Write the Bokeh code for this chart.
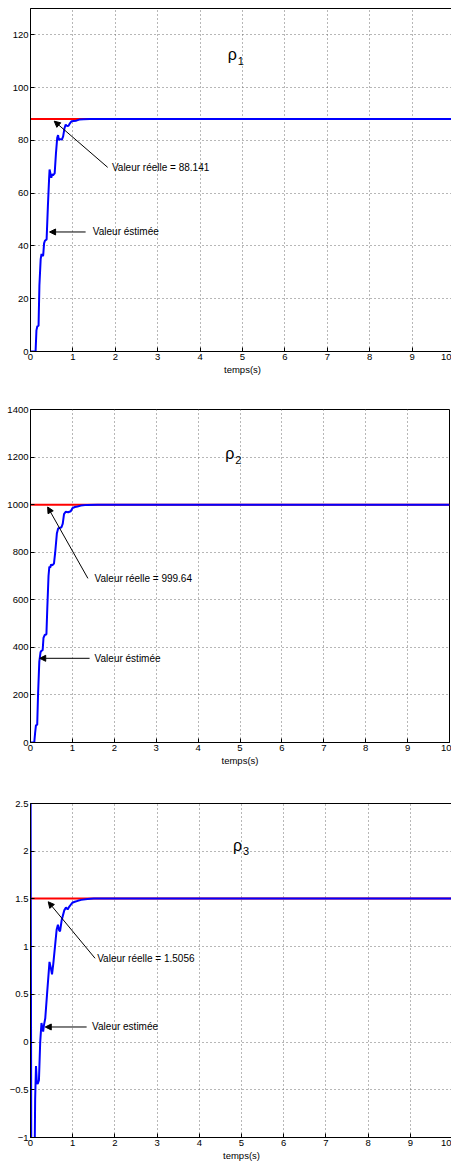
from bokeh.plotting import figure
from bokeh.layouts import column
from bokeh.models import Range1d, FixedTicker, Arrow, NormalHead, Label
from bokeh.embed import file_html
from bokeh.resources import INLINE

# ---------------- data ----------------
x_ticks = [0, 1, 2, 3, 4, 5, 6, 7, 8, 9, 10]

# rho_1
t1 = [0, 0.12, 0.14, 0.16, 0.19, 0.21, 0.24, 0.26, 0.28, 0.30, 0.32, 0.34, 0.38, 0.41, 0.44,
      0.45, 0.47, 0.49, 0.51, 0.53, 0.57, 0.60, 0.63, 0.65, 0.67, 0.70, 0.74, 0.77, 0.80,
      0.83, 0.86, 0.90, 0.93, 0.97, 1.02, 1.08, 1.15, 1.25, 1.4, 2.0, 10]
v1 = [0, 0, 8, 9.5, 9.8, 25, 35, 37, 36.2, 36.5, 41, 42, 42.5, 55, 66,
      69, 67.5, 65.8, 67.2, 66.8, 67.5, 75, 81, 82, 80.2, 80.5, 80.3, 81.5, 84.5,
      86, 85.5, 85.6, 86.5, 87.3, 87.4, 87.5, 87.9, 88.05, 88.13, 88.141, 88.141]
real1 = 88.141
y1_ticks = [0, 20, 40, 60, 80, 100, 120]

# rho_2
t2 = [0, 0.09, 0.11, 0.13, 0.16, 0.18, 0.21, 0.24, 0.26, 0.29, 0.31, 0.34, 0.38, 0.40, 0.43,
      0.45, 0.47, 0.49, 0.52, 0.56, 0.59, 0.63, 0.66, 0.69, 0.74, 0.77, 0.80, 0.84, 0.90,
      0.96, 1.0, 1.06, 1.12, 1.2, 1.35, 1.6, 10]
v2 = [0, 0, 40, 72, 75, 200, 340, 380, 385, 388, 440, 452, 455, 560, 700,
      740, 735, 748, 745, 752, 800, 880, 900, 902, 905, 920, 960, 970, 968,
      972, 985, 990, 992, 996, 999, 999.64, 999.64]
real2 = 999.64
y2_ticks = [0, 200, 400, 600, 800, 1000, 1200, 1400]

# rho_3
t3 = [0, 0.02, 0.09, 0.11, 0.13, 0.15, 0.17, 0.20, 0.23, 0.26, 0.28, 0.30, 0.32, 0.35, 0.40,
      0.45, 0.48, 0.51, 0.54, 0.58, 0.62, 0.65, 0.68, 0.70, 0.74, 0.80, 0.84, 0.88, 0.92,
      0.99, 1.05, 1.12, 1.2, 1.35, 1.5, 10]
v3 = [3.2, -1.6, -1.6, -0.6, -0.25, -0.42, -0.44, -0.40, 0.0, 0.2, 0.15, 0.11, 0.18, 0.25, 0.55,
      0.84, 0.78, 0.71, 0.82, 1.0, 1.18, 1.23, 1.17, 1.16, 1.28, 1.38, 1.41, 1.39, 1.42,
      1.46, 1.47, 1.48, 1.49, 1.50, 1.5056, 1.5056]
real3 = 1.5056
y3_ticks = [-1, -0.5, 0, 0.5, 1, 1.5, 2, 2.5]
y3_labels = ["\u22121", "\u22120.5", "0", "0.5", "1", "1.5", "2", "2.5"]

FONT = "Liberation Sans"
TOTAL_W = 451


def make_panel(t, v, real, yr, yticks, ylabels, left, top, fh, sub,
               sub_pos, arr_real, txt_real, arr_est, txt_est):
    fw = TOTAL_W - left - 2
    p = figure(frame_width=fw, frame_height=fh, x_range=Range1d(0, 10),
               y_range=Range1d(*yr), output_backend="svg", toolbar_location=None,
               min_border_left=left, min_border_right=2, min_border_top=top,
               min_border_bottom=28)
    p.background_fill_color = "white"
    p.border_fill_color = "white"
    p.outline_line_color = "black"
    p.outline_line_width = 1
    p.outline_line_alpha = 1

    p.xaxis.ticker = FixedTicker(ticks=x_ticks)
    p.yaxis.ticker = FixedTicker(ticks=yticks)
    if ylabels is not None:
        p.yaxis.major_label_overrides = {float(k): s for k, s in zip(yticks, ylabels)}
    for ax in (p.xaxis[0], p.yaxis[0]):
        ax.major_tick_in = 4
        ax.major_tick_out = 0
        ax.minor_tick_line_color = None
        ax.axis_line_color = "black"
        ax.major_tick_line_color = "black"
        ax.major_label_text_font = FONT
        ax.major_label_text_font_size = "9.5px"
        ax.major_label_text_color = "black"
        ax.major_label_standoff = 2
    p.xaxis.axis_label = "temps(s)"
    p.xaxis.axis_label_text_font = FONT
    p.xaxis.axis_label_text_font_size = "9.5px"
    p.xaxis.axis_label_text_font_style = "normal"
    p.xaxis.axis_label_text_color = "black"
    p.xaxis.axis_label_standoff = 1

    for g in (p.xgrid[0], p.ygrid[0]):
        g.grid_line_color = "#6e6e6e"
        g.grid_line_dash = "1 3"
        g.grid_line_width = 1

    p.line([0, 10], [real, real], line_color="#ff0000", line_width=2)
    p.line(t, v, line_color="#0000ff", line_width=2)

    head = dict(size=6, fill_color="black", line_color="black")
    p.add_layout(Arrow(end=NormalHead(**head), x_start=arr_real[2], y_start=arr_real[3],
                       x_end=arr_real[0], y_end=arr_real[1], line_width=1))
    p.add_layout(Label(x=txt_real[0], y=txt_real[1], text=txt_real[2], text_font=FONT,
                       text_font_size="10px", text_baseline="middle", text_color="black"))
    p.add_layout(Arrow(end=NormalHead(**head), x_start=arr_est[2], y_start=arr_est[3],
                       x_end=arr_est[0], y_end=arr_est[1], line_width=1))
    p.add_layout(Label(x=txt_est[0], y=txt_est[1], text=txt_est[2], text_font=FONT,
                       text_font_size="10px", text_baseline="middle", text_color="black"))
    p.add_layout(Label(x=sub_pos[0], y=sub_pos[1], text="\u03c1", text_font=FONT,
                       text_font_size="16px", text_baseline="middle", text_color="black"))
    p.add_layout(Label(x=sub_pos[0], y=sub_pos[1], x_offset=10, y_offset=-6, text=sub,
                       text_font=FONT, text_font_size="11px", text_baseline="middle",
                       text_color="black"))
    return p


p1 = make_panel(t1, v1, real1, (0, 130), y1_ticks, None, 25, 8, 343, "1", (4.65, 112.5),
                (0.56, 87.3, 1.82, 69.8), (1.92, 69.8, "Valeur r\u00e9elle = 88.141"),
                (0.45, 45.3, 1.30, 45.3), (1.47, 45.3, "Valeur \u00e9stim\u00e9e"))
p2 = make_panel(t2, v2, real2, (0, 1400), y2_ticks, None, 30, 30, 333, "2", (4.65, 1215),
                (0.41, 990, 1.37, 690), (1.53, 690, "Valeur r\u00e9elle = 999.64"),
                (0.22, 354, 1.41, 354), (1.53, 354, "Valeur \u00e9stim\u00e9e"))
p3 = make_panel(t3, v3, real3, (-1, 2.5), y3_ticks, y3_labels, 27, 33, 334, "3", (4.8, 2.06),
                (0.42, 1.47, 1.53, 0.878), (1.58, 0.878, "Valeur r\u00e9elle = 1.5056"),
                (0.35, 0.158, 1.33, 0.158), (1.46, 0.158, "Valeur estim\u00e9e"))

layout = column(p1, p2, p3, spacing=0)
open("out.html", "w").write(file_html(layout, INLINE))
